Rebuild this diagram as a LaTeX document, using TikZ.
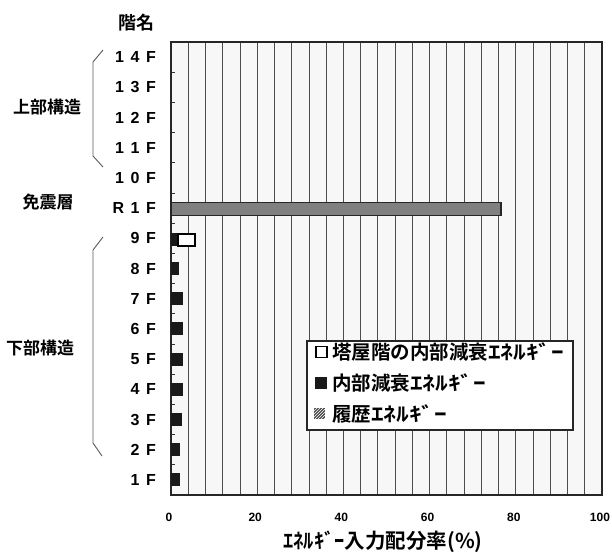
\documentclass[tikz,border=0pt]{standalone}
\usepackage{fontspec}
\setmainfont{Liberation Sans}
\newfontfamily\jp{Noto Sans CJK JP}[UprightFont=* Bold]
\usetikzlibrary{patterns}
\tikzset{
  gridline/.style={draw=black!70, line width=0.8pt},
  axisline/.style={draw=black!85, line width=1.3pt},
  flr/.style={font=\fontsize{16}{16}\selectfont\bfseries, execute at begin node={\spaceskip=6.5pt\relax}, anchor=east, inner sep=0pt},
  grp/.style={font=\jp\fontsize{17}{17}\selectfont, inner sep=0pt},
  tick/.style={font=\fontsize{12}{12}\selectfont\bfseries, inner sep=0pt},
  legtext/.style={font=\jp\fontsize{19.5}{19.5}\selectfont, anchor=west, inner sep=0pt},
  bracketline/.style={draw=black!65, line width=0.9pt},
  blackbar/.style={fill=black!90},
}
\begin{document}
\begin{tikzpicture}[x=1pt,y=-1pt]
\useasboundingbox (0,0) rectangle (612,551);
% plot area
\fill[black!3] (171,42) rectangle (602,495);
\foreach \k in {1,...,24} \draw[gridline] ({171+\k*17.24},42) -- ({171+\k*17.24},495);
\foreach \k in {1,...,14} \draw[black!80, line width=0.8pt] (171,{42+\k*30.2}) -- ++(4,0);
\draw[axisline] (171,42) rectangle (602,495);
% title
\node[grp, font=\jp\fontsize{18}{18}\selectfont] (ttl) at (136,23) {階名};
% floor labels
\foreach \lab [count=\i from 0] in {1 4 F,1 3 F,1 2 F,1 1 F,1 0 F,R 1 F,9 F,8 F,7 F,6 F,5 F,4 F,3 F,2 F,1 F}
  \node[flr] (f\i) at (156,{42+30.2*(\i+0.5)}) {\lab};
% group labels
\node[grp] (up) at (47,107) {上部構造};
\node[grp] (mid) at (48,202) {免震層};
\node[grp] (low) at (40,348) {下部構造};
% brackets
\draw[bracketline] (103,50) -- (93,62) -- (93,156) -- (103,167);
\draw[bracketline] (103,237) -- (93,250) -- (93,443) -- (102,456);
% bars
\draw[draw=black!85, line width=1.5pt, fill=black!50] (171,202.5) rectangle (501,215.5);
\fill[blackbar] (171,233) rectangle (178,246);
\draw[draw=black, line width=2pt, fill=white] (178,233.5) rectangle (195,245.5);
\foreach \w [count=\i from 7] in {8,12,12,12,12,11,9,9}
  \fill[blackbar] (171,{42+30.2*(\i+0.5)-6.5}) rectangle ({171+\w},{42+30.2*(\i+0.5)+6.5});
% x ticks
\foreach \v in {0,20,40,60,80,100}
  \node[tick] (x\v) at ({169+4.31*\v},517) {\v};
\node[grp, font=\jp\fontsize{20.5}{20.5}\selectfont] (xt) at (383,542) {ｴﾈﾙｷﾞｰ入力配分率(\%)};
% legend
\draw[draw=black!85, line width=1.1pt, fill=white] (307,341) rectangle (573,430);
\draw[line width=1.6pt, fill=white] (316,346.5) rectangle (327,357.5);
\node[legtext] (l1) at (332,352) {塔屋階の内部減衰\scalebox{1.3}[1]{ｴﾈﾙｷﾞｰ}};
\fill[black!90] (315,377) rectangle (327,389);
\node[legtext] (l2) at (332,383) {内部減衰\scalebox{1.3}[1]{ｴﾈﾙｷﾞｰ}};
\fill[black!70] (314,408) rectangle (325,419);
\fill[pattern=north east lines, pattern color=white] (314,408) rectangle (325,419);
\node[legtext] (l3) at (332,413.5) {履歴\scalebox{1.3}[1]{ｴﾈﾙｷﾞｰ}};
\end{tikzpicture}
\end{document}
